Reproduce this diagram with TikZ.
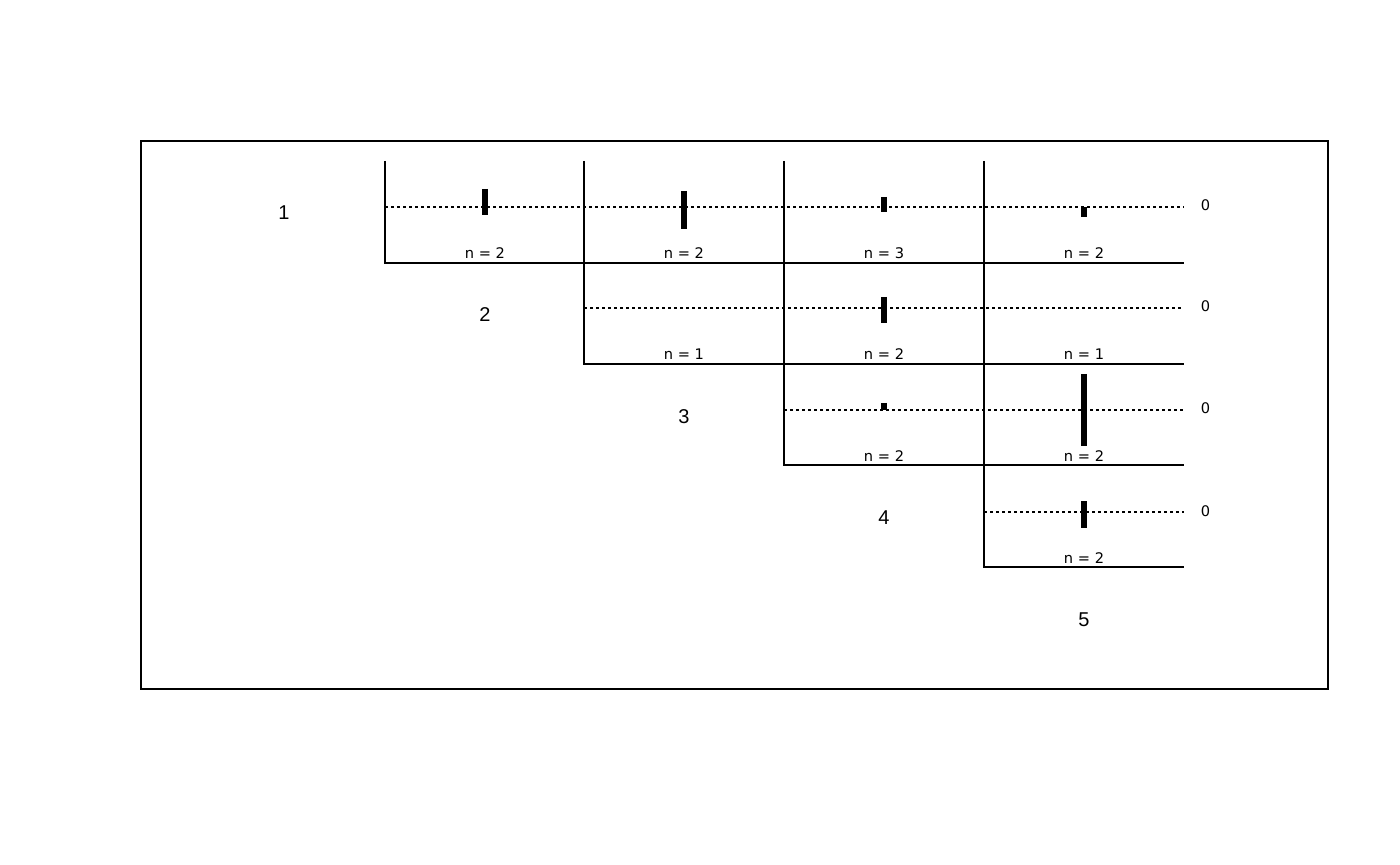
\documentclass[tikz,border=0pt]{standalone}
\usepackage{fontspec}
\setmainfont{Liberation Sans}
\newfontfamily\smallsans{DejaVu Sans}

\begin{document}
\begin{tikzpicture}[line cap=butt,line join=miter,x=0.5pt,y=-0.5pt,
  rule/.style={line width=0.75pt},
  dots/.style={line width=0.7pt,dash pattern=on 1.5pt off 1.5pt},
  bar/.style={line width=2.6pt},
  rowlab/.style={font=\fontsize{10}{12}\selectfont,anchor=base,inner sep=0pt},
  cntlab/.style={font=\smallsans\fontsize{7.3}{9}\selectfont,anchor=base,inner sep=0pt}]
\useasboundingbox (0,0) rectangle (1400,865);
\draw[rule] (141,141) rectangle (1328,689);

% steps
\draw[rule] (385,161) -- (385,263) -- (1184,263);
\draw[rule] (584,161) -- (584,364) -- (1184,364);
\draw[rule] (784,161) -- (784,465) -- (1184,465);
\draw[rule] (984,161) -- (984,567) -- (1184,567);

% zero lines
\draw[dots] (385,207) -- (1184,207);
\draw[dots] (584,308) -- (1184,308);
\draw[dots] (784,410) -- (1184,410);
\draw[dots] (984,512) -- (1184,512);

% bars
\draw[bar] (485,189) -- (485,215);
\draw[bar] (684,191) -- (684,229);
\draw[bar] (884,197) -- (884,212);
\draw[bar] (1084,207) -- (1084,217);
\draw[bar] (884,297) -- (884,323);
\draw[bar] (884,403) -- (884,410);
\draw[bar] (1084,374) -- (1084,446);
\draw[bar] (1084,501) -- (1084,528);

% row labels
\node[rowlab] (r1) at (284,220) {1};
\node[rowlab] (r2) at (485,321.5) {2};
\node[rowlab] (r3) at (684,423) {3};
\node[rowlab] (r4) at (884,524.5) {4};
\node[rowlab] (r5) at (1084,626) {5};

% zero marks
\node[cntlab] (z1) at (1205.5,211) {0};
\node[cntlab] (z2) at (1205.5,312) {0};
\node[cntlab] (z3) at (1205.5,414) {0};
\node[cntlab] (z4) at (1205.5,516) {0};

% counts
\node[cntlab] (n12) at (485,259) {n = 2};
\node[cntlab] (n13) at (684,259) {n = 2};
\node[cntlab] (n14) at (884,259) {n = 3};
\node[cntlab] (n15) at (1084,259) {n = 2};
\node[cntlab] (n23) at (684,360) {n = 1};
\node[cntlab] (n24) at (884,360) {n = 2};
\node[cntlab] (n25) at (1084,360) {n = 1};
\node[cntlab] (n34) at (884,461) {n = 2};
\node[cntlab] (n35) at (1084,461) {n = 2};
\node[cntlab] (n45) at (1084,563) {n = 2};

\end{tikzpicture}
\end{document}
